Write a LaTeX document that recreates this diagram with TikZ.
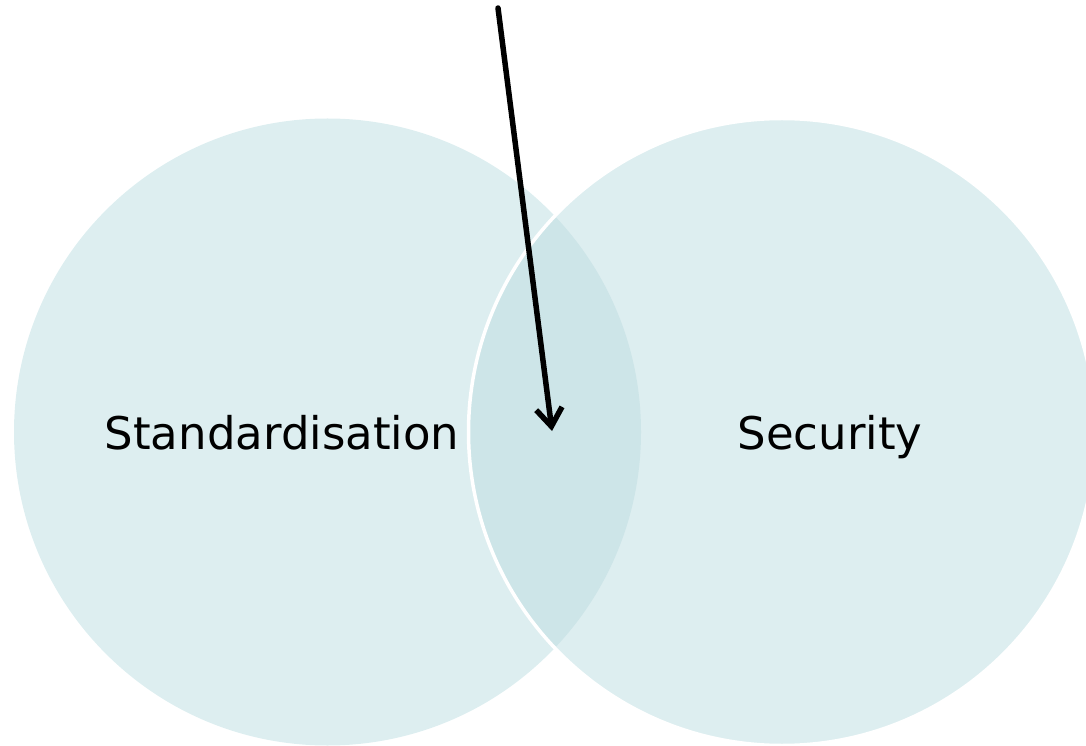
\documentclass[tikz,border=0pt]{standalone}
\usepackage{fontspec}
\setmainfont{DejaVu Sans}
\usetikzlibrary{arrows.meta}
\definecolor{venn}{RGB}{221,238,240}
\definecolor{vennover}{RGB}{205,229,232}
\begin{document}
\begin{tikzpicture}[x=1pt,y=1pt,
  vennlabel/.style={anchor=base,font=\fontsize{45}{54}\selectfont,text=black,inner sep=0pt},
  pointer/.style={line width=5.5pt,line cap=round,line join=round,-{Straight Barb[length=18pt,width=26pt,line width=5.5pt]}}]
\useasboundingbox (0,0) rectangle (1086,745);
\coordinate (cl) at (327.5,313);
\coordinate (cr) at (782,313);
\fill[venn] (cl) circle (313.5);
\fill[venn] (cr) circle (313.5);
\begin{scope}
  \clip (cl) circle (313.5);
  \fill[vennover] (cr) circle (313.5);
\end{scope}
\draw[white,line width=3.5pt] (cr) circle (313.5);
\node[vennlabel] (std) at (282,296) {Standardisation};
\node[vennlabel] (sec) at (830,296) {Security};
\coordinate (ps) at (498,737);
\coordinate (pe) at (552,314);
\draw[pointer] (ps) -- (pe);
\end{tikzpicture}
\end{document}
